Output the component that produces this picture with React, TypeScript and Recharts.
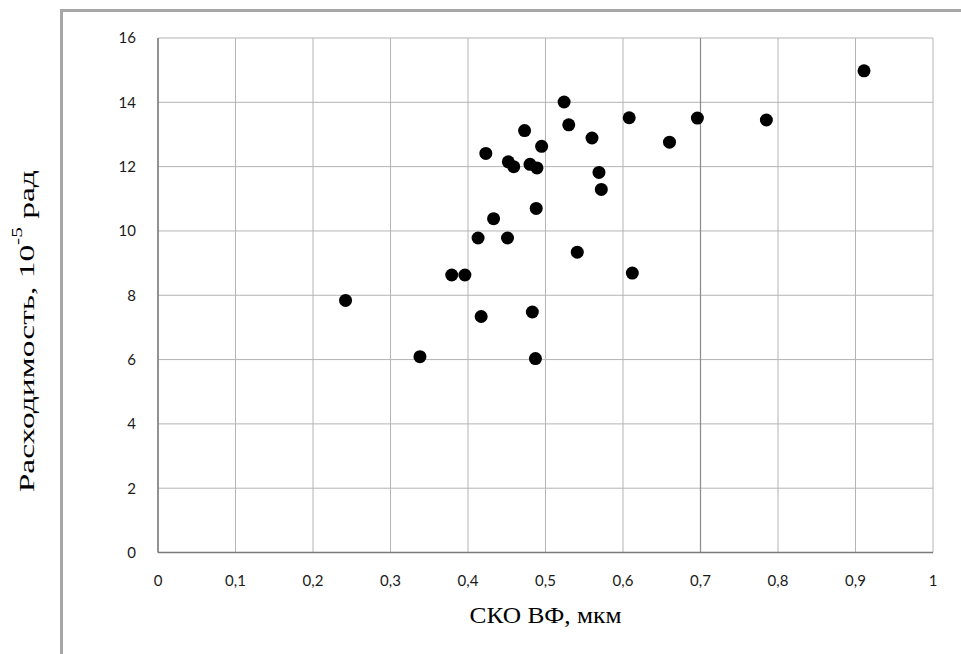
import React from 'react';
import { ScatterChart, Scatter, XAxis, YAxis, CartesianGrid, Label, ReferenceLine } from 'recharts';

// СКО волнового фронта, мкм
const skoValues = [
  0.524, 0.608, 0.473, 0.530, 0.560, 0.495, 0.423, 0.452, 0.459, 0.480,
  0.489, 0.569, 0.572, 0.488, 0.433, 0.413, 0.451, 0.541, 0.379, 0.396,
  0.612, 0.242, 0.417, 0.483, 0.338, 0.487, 0.911, 0.696, 0.785, 0.660,
];

// Расходимость, 10^-5 рад
const divergenceValues = [
  14.01, 13.52, 13.12, 13.30, 12.89, 12.63, 12.41, 12.15, 12.00, 12.07,
  11.96, 11.82, 11.29, 10.70, 10.38, 9.78, 9.78, 9.34, 8.63, 8.63,
  8.69, 7.84, 7.34, 7.48, 6.09, 6.03, 14.98, 13.51, 13.45, 12.76,
];

const xTicks = [0, 0.1, 0.2, 0.3, 0.4, 0.5, 0.6, 0.7, 0.8, 0.9, 1];
const yTicks = [0, 2, 4, 6, 8, 10, 12, 14, 16];

const points = skoValues.map((x, i) => ({ x, y: divergenceValues[i] }));

const formatX = (v: number) => String(v).replace('.', ',');

const tickFont = { fontFamily: 'Lato, "Open Sans", sans-serif', fontSize: 15, fill: '#1a1a1a' };
const serif = '"Liberation Serif", "Times New Roman", serif';

const Dot = (props: any) => <circle cx={props.cx} cy={props.cy} r={6.5} fill="#000" />;

const YTitle = (props: any) => {
  const vb = props.viewBox || { x: 0, y: 0, height: 0 };
  const cx = 26;
  const cy = vb.y + vb.height / 2 + 36;
  return (
    <text
      x={cx}
      y={cy}
      transform={`rotate(-90 ${cx} ${cy})`}
      textAnchor="middle"
      dominantBaseline="central"
      fontFamily={serif}
      fontSize={22}
      fill="#000"
      textLength={322}
      lengthAdjust="spacingAndGlyphs"
    >
      Расходимость, 10
      <tspan fontSize={14} dy={-9}>-5</tspan>
      <tspan dy={9}> рад</tspan>
    </text>
  );
};

const XTitle = (props: any) => {
  const vb = props.viewBox || { x: 0, y: 0, width: 0 };
  const cx = vb.x + vb.width / 2;
  return (
    <text
      x={cx}
      y={615}
      textAnchor="middle"
      dominantBaseline="central"
      fontFamily={serif}
      fontSize={23}
      fill="#000"
      textLength={152}
      lengthAdjust="spacingAndGlyphs"
    >
      СКО ВФ, мкм
    </text>
  );
};

export default function App() {
  return (
    <div style={{ position: 'absolute', left: 0, top: 0, width: 961, height: 654, background: '#fff', overflow: 'hidden' }}>
      <div
        style={{
          position: 'absolute',
          left: 60,
          top: 9,
          width: 920,
          height: 680,
          borderTop: '3px solid #a6a6a6',
          borderLeft: '3px solid #a6a6a6',
        }}
      />
      <ScatterChart
        width={961}
        height={654}
        margin={{ top: 38, right: 28, bottom: 0, left: 0 }}
        style={{ position: 'absolute', left: 0, top: 0 }}
      >
        <CartesianGrid stroke="#b4b4b4" strokeWidth={1} />
        <XAxis
          type="number"
          dataKey="x"
          domain={[0, 1]}
          ticks={xTicks}
          tickFormatter={formatX}
          tick={tickFont}
          tickLine={false}
          axisLine={{ stroke: '#7a7a7a', strokeWidth: 1.5 }}
          tickMargin={17}
          height={101.5}
          interval={0}
        >
          <Label content={XTitle} />
        </XAxis>
        <YAxis
          type="number"
          dataKey="y"
          domain={[0, 16]}
          ticks={yTicks}
          tick={tickFont}
          tickLine={false}
          axisLine={{ stroke: '#7a7a7a', strokeWidth: 1.5 }}
          tickMargin={16}
          width={158}
          interval={0}
        >
          <Label content={YTitle} />
        </YAxis>
        <ReferenceLine x={0.7} stroke="#8a8a8a" strokeWidth={1.2} />
        <Scatter data={points} shape={Dot} isAnimationActive={false} />
      </ScatterChart>
    </div>
  );
}
